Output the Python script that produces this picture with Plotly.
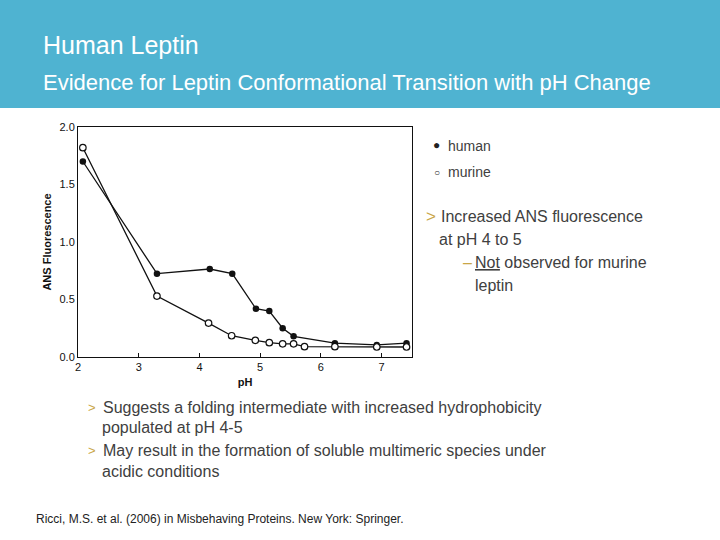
import plotly.graph_objects as go

ph_human = [2.08, 3.30, 4.17, 4.54, 4.93, 5.15, 5.37, 5.55, 6.23, 6.92, 7.41]
ans_human = [1.70, 0.725, 0.765, 0.725, 0.42, 0.40, 0.25, 0.18, 0.12, 0.105, 0.12]
ph_murine = [2.08, 3.30, 4.15, 4.53, 4.92, 5.15, 5.37, 5.55, 5.73, 6.23, 6.92, 7.41]
ans_murine = [1.82, 0.53, 0.295, 0.185, 0.145, 0.125, 0.115, 0.115, 0.09, 0.09, 0.087, 0.087]
x_ticks = [2, 3, 4, 5, 6, 7]
y_ticks = [0.0, 0.5, 1.0, 1.5, 2.0]

W, H = 720, 540
FONT = "Arial, Liberation Sans, sans-serif"
GOLD = "#C9A646"
TXT = "#404040"

fig = go.Figure()
fig.add_trace(go.Scatter(x=ph_human, y=ans_human, mode="lines+markers", name="human",
                         line=dict(color="#111111", width=1.3),
                         marker=dict(symbol="circle", size=6.5, color="#111111")))
fig.add_trace(go.Scatter(x=ph_murine, y=ans_murine, mode="lines+markers", name="murine",
                         line=dict(color="#111111", width=1.3),
                         marker=dict(symbol="circle", size=6.5, color="white",
                                     line=dict(color="#111111", width=1.2))))

def px(x):
    return x / W

def py(y):
    return 1 - y / H

fig.update_layout(
    width=W, height=H, margin=dict(l=0, r=0, t=0, b=0, pad=0, autoexpand=False),
    paper_bgcolor="white", plot_bgcolor="white", showlegend=False,
    font=dict(family=FONT, color="#111111"),
    xaxis=dict(domain=[px(78), px(412)], range=[2, 7.5], tickvals=x_ticks,
               ticks="inside", ticklen=4, tickcolor="#111111", automargin=False,
               showline=True, linecolor="#111111", linewidth=1, mirror=True,
               showgrid=False, zeroline=False, tickfont=dict(size=11, color="#111111"),
               title=dict(text="<b>pH</b>", font=dict(size=11), standoff=6)),
    yaxis=dict(domain=[py(357), py(127)], range=[0, 2.0], tickvals=y_ticks, tickformat=".1f",
               ticks="", automargin=False, showline=True, linecolor="#111111", linewidth=1, mirror=True,
               showgrid=False, zeroline=False, tickfont=dict(size=11, color="#111111"),
               title=dict(text="<b>ANS Fluorescence</b>", font=dict(size=11), standoff=5)),
)

fig.add_shape(type="rect", xref="paper", yref="paper", x0=0, x1=1, y0=py(108), y1=1,
              fillcolor="#4FB3D1", line=dict(width=0), layer="below")

def txt(x, y, s, size, color=TXT, anchor="left"):
    fig.add_annotation(xref="paper", yref="paper", x=px(x), y=py(y), text=s, showarrow=False,
                       xanchor=anchor, yanchor="middle", font=dict(family=FONT, size=size, color=color))

txt(41, 45, "Human Leptin", 25, "white")
txt(41, 83, "Evidence for Leptin Conformational Transition with pH Change", 22, "white")

txt(431, 145, "●", 12, "#222222")
txt(446, 146, "human", 14)
txt(432, 172, "○", 10, "#222222")
txt(446, 172, "murine", 14)

txt(424, 216, ">", 17, GOLD)
txt(439, 216, "Increased ANS fluorescence", 16)
txt(437, 239, "at pH 4 to 5", 16)
txt(461, 262, "–", 16, GOLD)
txt(473, 262, "<u>Not</u> observed for murine", 16)
txt(473, 285, "leptin", 16)

txt(86, 407, ">", 13, GOLD)
txt(101, 407, "Suggests a folding intermediate with increased hydrophobicity", 16)
txt(100, 427, "populated at pH 4-5", 16)
txt(86, 450, ">", 13, GOLD)
txt(101, 450, "May result in the formation of soluble multimeric species under", 16)
txt(100, 471, "acidic conditions", 16)

txt(34, 519, "Ricci, M.S. et al. (2006) in Misbehaving Proteins. New York: Springer.", 12, "#222222")

fig.write_html("out.html", config={"displayModeBar": False},
               post_script="document.body.style.margin='0';document.body.style.overflow='hidden';")
